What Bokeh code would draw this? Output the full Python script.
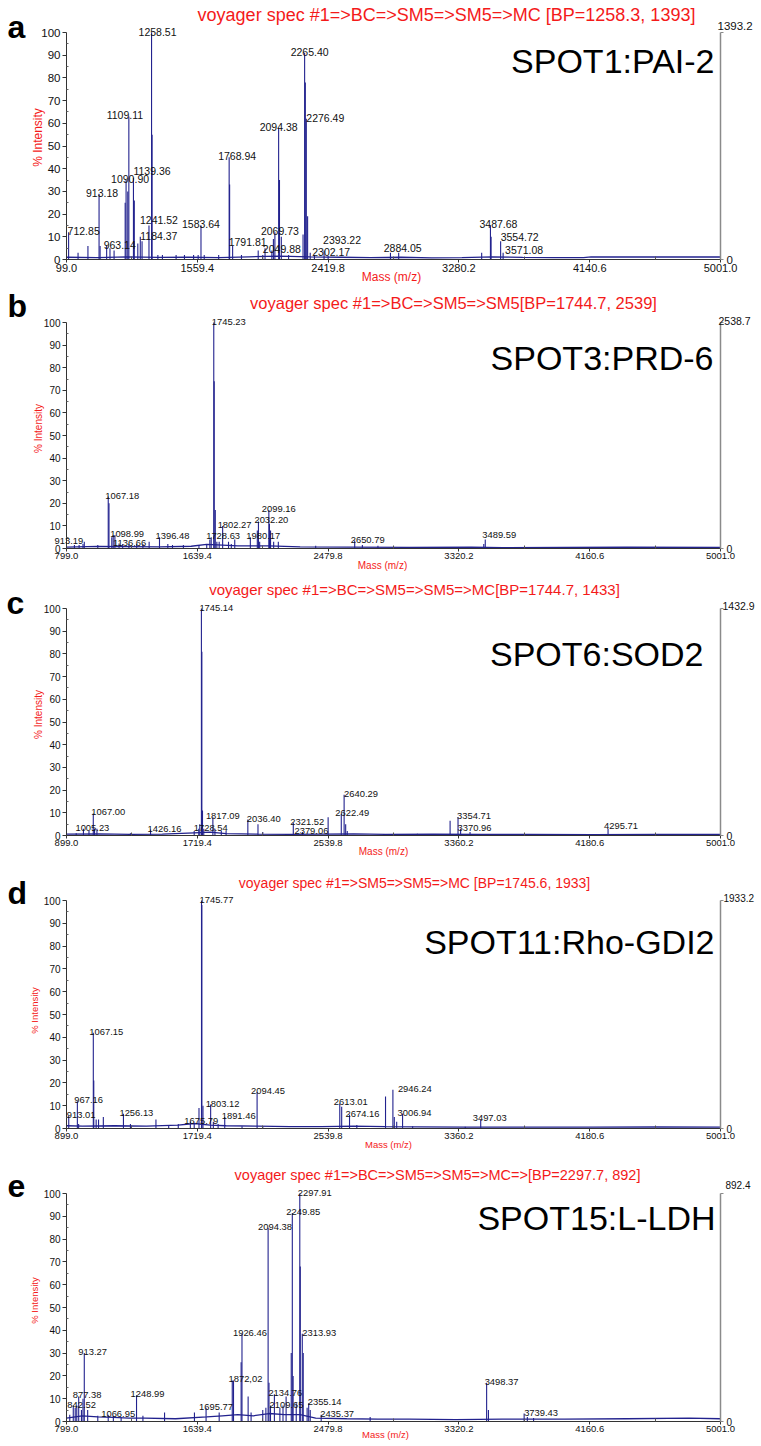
import math
from bokeh.plotting import figure
from bokeh.layouts import column
from bokeh.models import Range1d, LinearAxis, FixedTicker, ColumnDataSource
from bokeh.embed import file_html
from bokeh.resources import INLINE
from bokeh.core.properties import value

# ---------------- DATA ----------------
# Panel a : SPOT1:PAI-2
a_title = "voyager spec #1=>BC=>SM5=>SM5=>MC [BP=1258.3, 1393]"
a_name = "SPOT1:PAI-2"
a_counts_max = 1393.2
a_xrange = (699.0, 5001.0)
a_xticks = [699.0, 1559.4, 2419.8, 3280.2, 4140.6, 5001.0]
a_xtick_labels = ["99.0", "1559.4", "2419.8", "3280.2", "4140.6", "5001.0"]
a_label_mz = [712.85, 913.18, 963.14, 1090.90, 1109.11, 1139.36, 1184.37, 1241.52, 1258.51, 1583.64,
              1768.94, 1791.81, 2049.88, 2069.73, 2094.38, 2265.40, 2276.49, 2302.17, 2393.22, 2884.05,
              3487.68, 3554.72, 3571.08]
a_label_int = [12, 29, 6, 35, 63, 36, 10, 15, 100, 15,
               45, 6, 4, 12, 58, 91, 62, 3, 4, 3,
               15, 8, 3]
a_label_txt = ["712.85", "913.18", "963.14", "1090.90", "1109.11", "1139.36", "1184.37", "1241.52", "1258.51", "1583.64",
               "1768.94", "1791.81", "2049.88", "2069.73", "2094.38", "2265.40", "2276.49", "2302.17", "2393.22", "2884.05",
               "3487.68", "3554.72", "3571.08"]
a_peak_mz = [775, 840, 920, 985, 1012, 1085, 1102, 1145, 1168, 1196, 1262, 1300, 1330, 1420, 1475, 1535, 1565,
             1605, 1700, 1772, 1850, 1960, 1990, 2005, 2060, 2100, 2112, 2160, 2255, 2270, 2285, 2330, 2420,
             2830, 3430, 3492]
a_peak_int = [3, 6, 6, 5, 4, 25, 30, 26, 7, 8, 55, 2, 2, 2, 2, 2, 2,
              2, 2, 33, 2, 4, 2, 5, 9, 35, 10, 2, 11, 78, 19, 2, 1.5,
              3, 3, 10]
a_base_mz = [699, 900, 1100, 1300, 1500, 1700, 1900, 2100, 2300, 2500, 2700, 2900, 3100, 3300, 3500, 3700,
             3900, 4100, 4150, 4500, 5001]
a_base_int = [1.0, 0.8, 1.2, 0.9, 1.0, 0.8, 1.2, 1.5, 1.2, 1.0, 0.8, 1.0, 0.7, 0.8, 1.2, 0.9,
              0.8, 0.8, 1.2, 1.1, 1.1]

# Panel b : SPOT3:PRD-6
b_title = "voyager spec #1=>BC=>SM5=>SM5[BP=1744.7, 2539]"
b_name = "SPOT3:PRD-6"
b_counts_max = 2538.7
b_xrange = (799.0, 5001.0)
b_xticks = [799.0, 1639.4, 2479.8, 3320.2, 4160.6, 5001.0]
b_xtick_labels = ["799.0", "1639.4", "2479.8", "3320.2", "4160.6", "5001.0"]
b_label_mz = [913.19, 1067.18, 1098.99, 1136.66, 1396.48, 1728.63, 1745.23, 1802.27, 1980.17, 2032.20,
              2099.16, 2650.79, 3489.59]
b_label_int = [3, 23, 6, 2.2, 5, 5, 100, 10, 5, 12, 17, 3.5, 4]
b_label_txt = ["913.19", "1067.18", "1098.99", "1136.66", "1396.48", "1728.63", "1745.23", "1802.27", "1980.17",
               "2032.20", "2099.16", "2650.79", "3489.59"]
b_peak_mz = [850, 880, 905, 1000, 1072, 1090, 1110, 1160, 1200, 1250, 1290, 1330, 1450, 1480, 1550, 1650,
             1700, 1720, 1748, 1755, 1765, 1780, 1840, 1858, 1880, 2025, 2040, 2103, 2110, 2130, 2160,
             2400, 2700, 2800, 3480]
b_peak_int = [1.5, 1.5, 2, 1.5, 20, 5, 6, 2, 2, 2, 2, 3, 2, 1.5, 1.5, 1.5,
              2, 4, 74, 17, 3, 3, 3, 2, 4, 8, 3, 11, 8, 3, 3,
              1.2, 1.5, 1.2, 2]
b_base_mz = [799, 1000, 1200, 1400, 1600, 1700, 1800, 1900, 2100, 2300, 2600, 3000, 3400, 3600, 4000,
             4400, 5001]
b_base_int = [0.6, 0.9, 0.8, 0.7, 1.0, 1.8, 1.5, 1.2, 1.2, 0.7, 0.6, 0.5, 0.6, 0.4, 0.5, 0.6, 0.5]

# Panel c : SPOT6:SOD2
c_title = "voyager spec #1=>BC=>SM5=>SM5=>MC[BP=1744.7, 1433]"
c_name = "SPOT6:SOD2"
c_counts_max = 1432.9
c_xrange = (899.0, 5001.0)
c_xticks = [899.0, 1719.4, 2539.8, 3360.2, 4180.6, 5001.0]
c_xtick_labels = ["899.0", "1719.4", "2539.8", "3360.2", "4180.6", "5001.0"]
c_label_mz = [1005.23, 1067.00, 1426.16, 1728.54, 1745.14, 1817.09, 2036.40, 2321.52, 2379.06, 2622.49,
              2640.29, 3354.71, 3370.96, 4295.71]
c_label_int = [3, 9.7, 2.6, 3, 100, 8, 7, 5.5, 1.5, 9.5, 18, 8, 3, 3]
c_label_txt = ["1005.23", "1067.00", "1426.16", "1728.54", "1745.14", "1817.09", "2036.40", "2321.52",
               "2379.06", "2622.49", "2640.29", "3354.71", "3370.96", "4295.71"]
c_peak_mz = [960, 1040, 1075, 1090, 1300, 1700, 1735, 1748, 1752, 1760, 1830, 1870, 1900, 2100, 2130,
             2540, 2650, 2660, 3100, 3305, 3430]
c_peak_int = [1, 2, 3, 3, 1, 2, 5, 81, 11, 3, 3, 2, 2, 5, 1.5,
              8, 5, 2, 0.8, 6.5, 1.5]
c_base_mz = [899, 1100, 1300, 1500, 1700, 1800, 1900, 2100, 2300, 2500, 2700, 2900, 3200, 3500, 3800,
             4200, 4600, 5001]
c_base_int = [0.6, 0.7, 0.5, 0.6, 1.2, 1.5, 0.8, 0.6, 0.5, 0.6, 0.7, 0.5, 0.6, 0.5, 0.5, 0.4, 0.5, 0.5]

# Panel d : SPOT11:Rho-GDI2
d_title = "voyager spec #1=>SM5=>SM5=>MC [BP=1745.6, 1933]"
d_name = "SPOT11:Rho-GDI2"
d_counts_max = 1933.2
d_xrange = (899.0, 5001.0)
d_xticks = [899.0, 1719.4, 2539.8, 3360.2, 4180.6, 5001.0]
d_xtick_labels = ["899.0", "1719.4", "2539.8", "3360.2", "4180.6", "5001.0"]
d_label_mz = [913.01, 967.16, 1067.15, 1256.13, 1675.79, 1745.77, 1803.12, 1891.46, 2094.45, 2613.01,
              2674.16, 2946.24, 3006.94, 3497.03]
d_label_int = [5.5, 12, 42, 6.5, 3, 100, 10.5, 5, 16, 11, 6, 17, 6.5, 4]
d_label_txt = ["913.01", "967.16", "1067.15", "1256.13", "1675.79", "1745.77", "1803.12", "1891.46",
               "2094.45", "2613.01", "2674.16", "2946.24", "3006.94", "3497.03"]
d_peak_mz = [975, 1070, 1085, 1100, 1130, 1300, 1460, 1540, 1600, 1700, 1730, 1748, 1755, 1820, 1850,
             2000, 2130, 2625, 2720, 2900, 2955, 2970, 3070, 3400]
d_peak_int = [2, 21, 4, 4, 5, 2, 4, 1.5, 2, 2, 9, 98, 10, 3, 2,
              1, 1, 9.5, 1.5, 14, 5, 3, 1, 0.8]
d_base_mz = [899, 1000, 1200, 1400, 1600, 1700, 1800, 1900, 2100, 2300, 2500, 2700, 2900, 3100, 3400,
             3800, 4200, 4600, 5001]
d_base_int = [1.2, 1.0, 1.2, 1.0, 1.5, 2.2, 1.5, 1.2, 1.0, 0.8, 0.8, 1.0, 0.8, 0.7, 0.6,
              0.6, 0.6, 0.7, 0.6]

# Panel e : SPOT15:L-LDH
e_title = "voyager spec #1=>BC=>SM5=>SM5=>MC=>[BP=2297.7, 892]"
e_name = "SPOT15:L-LDH"
e_counts_max = 892.4
e_xrange = (799.0, 5001.0)
e_xticks = [799.0, 1639.4, 2479.8, 3320.2, 4160.6, 5001.0]
e_xtick_labels = ["799.0", "1639.4", "2479.8", "3320.2", "4160.6", "5001.0"]
e_label_mz = [842.52, 877.38, 913.27, 1066.95, 1248.99, 1695.77, 1872.02, 1926.46, 2094.38, 2109.65,
              2134.76, 2249.85, 2297.91, 2313.93, 2355.14, 2435.37, 3498.37, 3739.43]
e_label_int = [7, 11, 30, 3, 11.5, 6, 18, 38.5, 85, 7, 12, 91.5, 100, 38.5, 8, 3, 17, 3.5]
e_label_txt = ["842.52", "877.38", "913.27", "1066.95", "1248.99", "1695.77", "1872,02", "1926.46",
               "2094.38", "2109.65", "2134.76", "2249.85", "2297.91", "2313.93", "2355.14", "2435.37",
               "3498.37", "3739.43"]
e_peak_mz = [820, 855, 865, 895, 905, 935, 1000, 1100, 1150, 1290, 1429, 1621, 1780, 1864, 1921, 1966,
             1985, 2060, 2080, 2100, 2170, 2190, 2210, 2243, 2255, 2275, 2301, 2320, 2345, 2365, 2750,
             3510, 3760, 3800]
e_peak_int = [3, 6, 7, 5, 10, 5, 2.5, 2.5, 2, 2.5, 4, 4, 4, 18, 26, 11,
              4, 5, 6, 17, 6, 7, 11, 30, 20, 8, 68, 30, 6, 5, 2,
              5, 2, 1.5]
e_base_mz = [799, 900, 1000, 1100, 1200, 1300, 1500, 1700, 1800, 1900, 2000, 2100, 2200, 2300, 2400,
             2600, 2800, 3000, 3300, 3600, 4000, 4400, 4800, 5001]
e_base_int = [1.5, 2.5, 2.0, 1.8, 1.5, 1.5, 1.2, 2.0, 2.5, 3.0, 2.5, 3.5, 3.0, 3.0, 1.5,
              1.2, 1.0, 1.0, 0.8, 1.0, 1.0, 1.2, 1.5, 1.2]

# ---------------- STYLE / LAYOUT ----------------
FONT = "Liberation Sans"
RED = "#f41a1a"
SPEC = "#22228e"
FRAME_LEFT = 66
FRAME_W = 654
FIG_W = 761
HEADROOM = 16  # px of frame above the 100 % line (room for peak labels)

panels = [
    dict(letter="a", title=a_title, name=a_name, cmax=a_counts_max, xr=a_xrange, xt=a_xticks, xtl=a_xtick_labels,
         lmz=a_label_mz, lint=a_label_int, ltxt=a_label_txt, pmz=a_peak_mz, pint=a_peak_int,
         bmz=a_base_mz, bint=a_base_int,
         geo=dict(fig_top=0, top100=32, h100=227, fig_bottom=286),
         fs=dict(title=18, tick_x=11, tick_y=11.5, lab=10.5, axis=12, cmax=11.5),
         pos=dict(title=(446, 14), name=(714, 60), letter=(7, 26), ylab=(37, 137), xlab=(391, 276), cmax=(717, 25)),
         default=("center", 0, 0),
         style={"712.85": ("left", -1, 0), "913.18": ("center", 3, 0), "963.14": ("left", -3, 0),
                "1090.90": ("center", 4, 0), "1109.11": ("center", -4, 0), "1139.36": ("left", 0, 6),
                "1184.37": ("left", 0, 0), "1241.52": ("left", -9, 4), "1258.51": ("center", 6, 0),
                "1768.94": ("center", 8, 0), "1791.81": ("left", -4, 3), "2049.88": ("left", -9, 0),
                "2069.73": ("center", 5, 0), "2265.40": ("center", 5, 0), "2276.49": ("left", 0, 0),
                "2302.17": ("left", 2, 0), "2393.22": ("left", -1, 9), "2884.05": ("center", 4, 4),
                "3487.68": ("center", 8, 0), "3554.72": ("left", 0, 3), "3571.08": ("left", 2, 2)}),
    dict(letter="b", title=b_title, name=b_name, cmax=b_counts_max, xr=b_xrange, xt=b_xticks, xtl=b_xtick_labels,
         lmz=b_label_mz, lint=b_label_int, ltxt=b_label_txt, pmz=b_peak_mz, pint=b_peak_int,
         bmz=b_base_mz, bint=b_base_int,
         geo=dict(fig_top=286, top100=322, h100=226, fig_bottom=573),
         fs=dict(title=16.5, tick_x=9.5, tick_y=10, lab=9.4, axis=10, cmax=10.5),
         pos=dict(title=(453, 302), name=(713, 357), letter=(7, 305), ylab=(38, 428), xlab=(382, 565), cmax=(718, 320)),
         default=("left", -4, 0),
         style={"913.19": ("right", -1, 0), "1067.18": ("left", -3, 0), "1098.99": ("left", -3, 0),
                "1136.66": ("left", -6, 0), "1728.63": ("left", -5, 0), "1745.23": ("left", -2, 0),
                "1802.27": ("left", -5, 0), "2099.16": ("left", -7, 0), "3489.59": ("left", -3, 3)}),
    dict(letter="c", title=c_title, name=c_name, cmax=c_counts_max, xr=c_xrange, xt=c_xticks, xtl=c_xtick_labels,
         lmz=c_label_mz, lint=c_label_int, ltxt=c_label_txt, pmz=c_peak_mz, pint=c_peak_int,
         bmz=c_base_mz, bint=c_base_int,
         geo=dict(fig_top=573, top100=608, h100=227, fig_bottom=862),
         fs=dict(title=15, tick_x=9.5, tick_y=10, lab=9.4, axis=10, cmax=10.5),
         pos=dict(title=(414, 589), name=(703, 653), letter=(6, 602), ylab=(38, 714), xlab=(383, 851), cmax=(722, 605)),
         default=("left", -4, 0),
         style={"1005.23": ("left", -8, 0), "1067.00": ("left", -2, 0), "1426.16": ("left", -3, 0),
                "1728.54": ("left", -5, 0), "1745.14": ("left", -2, 0), "1817.09": ("left", -7, 0),
                "2036.40": ("left", -1, 0), "2321.52": ("left", -3, 0), "2379.06": ("left", -8, 0),
                "2622.49": ("left", -6, 0), "2640.29": ("left", 0, 0), "3354.71": ("left", -1, 0),
                "3370.96": ("left", -3, 0), "4295.71": ("left", -4, 2)}),
    dict(letter="d", title=d_title, name=d_name, cmax=d_counts_max, xr=d_xrange, xt=d_xticks, xtl=d_xtick_labels,
         lmz=d_label_mz, lint=d_label_int, ltxt=d_label_txt, pmz=d_peak_mz, pint=d_peak_int,
         bmz=d_base_mz, bint=d_base_int,
         geo=dict(fig_top=862, top100=900, h100=228, fig_bottom=1152),
         fs=dict(title=14, tick_x=9.5, tick_y=10, lab=9.4, axis=9.5, cmax=10),
         pos=dict(title=(414, 882), name=(714, 941), letter=(7, 892), ylab=(34, 1010), xlab=(388, 1144), cmax=(723, 897)),
         default=("left", -4, 0),
         style={"913.01": ("left", -2, 0), "967.16": ("left", -3, 0), "1675.79": ("left", -6, 0),
                "1745.77": ("left", -2, 0), "1803.12": ("left", -5, 0), "1891.46": ("left", -3, 0),
                "2094.45": ("left", -6, 0), "2613.01": ("left", -6, 0), "2946.24": ("left", 5, 0),
                "3006.94": ("left", -5, 0), "3497.03": ("left", -8, 0)}),
    dict(letter="e", title=e_title, name=e_name, cmax=e_counts_max, xr=e_xrange, xt=e_xticks, xtl=e_xtick_labels,
         lmz=e_label_mz, lint=e_label_int, ltxt=e_label_txt, pmz=e_peak_mz, pint=e_peak_int,
         bmz=e_base_mz, bint=e_base_int,
         geo=dict(fig_top=1152, top100=1193, h100=228, fig_bottom=1446),
         fs=dict(title=14.5, tick_x=9.5, tick_y=10, lab=9.4, axis=9.5, cmax=10),
         pos=dict(title=(437, 1174), name=(715, 1217), letter=(7, 1185), ylab=(34, 1300), xlab=(385, 1434), cmax=(725, 1184)),
         default=("left", -6, 0),
         style={"1066.95": ("left", -7, 0), "1695.77": ("left", -7, 0), "1872,02": ("left", -5, 0),
                "1926.46": ("left", -9, 0), "2094.38": ("left", -10, 0), "2109.65": ("left", -1, 0),
                "2297.91": ("left", -2, 0), "2313.93": ("left", 0, 0), "2355.14": ("left", -1, 0),
                "2435.37": ("left", -1, 0), "3498.37": ("left", -2, 0), "3739.43": ("left", 0, 0)}),
]


def build(P):
    g = P["geo"]
    fs = P["fs"]
    x0, x1 = P["xr"]
    bottom0 = g["top100"] + g["h100"]          # page y of the 0 % line
    frame_top = g["top100"] - HEADROOM
    frame_h = g["h100"] + HEADROOM
    ytop = 100.0 * frame_h / g["h100"]
    ft = g["fig_top"]

    def px2x(px):
        return x0 + (px - FRAME_LEFT) / FRAME_W * (x1 - x0)

    def py2y(py):
        return (bottom0 - py) / g["h100"] * 100.0

    p = figure(frame_width=FRAME_W, frame_height=frame_h,
               x_range=Range1d(x0, x1), y_range=Range1d(0, ytop),
               x_axis_type=None, y_axis_type=None,
               min_border_left=FRAME_LEFT, min_border_right=FIG_W - FRAME_LEFT - FRAME_W,
               min_border_top=frame_top - ft,
               min_border_bottom=g["fig_bottom"] - bottom0,
               output_backend="svg", toolbar_location=None,
               background_fill_color="white", border_fill_color="white")
    p.outline_line_color = None
    p.extra_y_ranges = {"counts": Range1d(0, P["cmax"] * ytop / 100.0)}

    # bottom axis
    step = P["xt"][1] - P["xt"][0]
    xa = LinearAxis(ticker=FixedTicker(ticks=P["xt"], minor_ticks=[t + step / 2 for t in P["xt"][:-1]]))
    xa.major_label_overrides = {t: l for t, l in zip(P["xt"], P["xtl"])}
    xa.major_label_text_font = FONT
    xa.major_label_text_font_size = f"{fs['tick_x']}px"
    xa.major_label_text_color = "#111111"
    xa.major_label_standoff = 1
    xa.major_tick_out = 3
    xa.major_tick_in = 0
    xa.minor_tick_out = 0
    xa.minor_tick_in = 3
    xa.axis_line_color = "#333333"
    xa.major_tick_line_color = "#333333"
    xa.minor_tick_line_color = "#555555"
    p.add_layout(xa, "below")

    # left axis (% intensity)
    ya = LinearAxis(ticker=FixedTicker(ticks=list(range(0, 101, 10)), minor_ticks=list(range(5, 100, 10))),
                    bounds=(0, 100))
    ya.major_label_text_font = FONT
    ya.major_label_text_font_size = f"{fs['tick_y']}px"
    ya.major_label_text_color = "#111111"
    ya.major_label_standoff = 2
    ya.major_tick_out = 4
    ya.major_tick_in = 0
    ya.minor_tick_out = 0
    ya.minor_tick_in = 2
    ya.axis_line_color = "#333333"
    ya.major_tick_line_color = "#333333"
    ya.minor_tick_line_color = "#666666"
    p.add_layout(ya, "left")

    # right axis (absolute counts)
    ra = LinearAxis(y_range_name="counts", ticker=FixedTicker(ticks=[0, P["cmax"]], minor_ticks=[]),
                    bounds=(0, P["cmax"]))
    ra.major_label_overrides = {0: "0", P["cmax"]: ""}
    ra.major_label_text_font = FONT
    ra.major_label_text_font_size = f"{fs['cmax']}px"
    ra.major_label_text_color = "#111111"
    ra.major_label_standoff = 3
    ra.major_tick_out = 3
    ra.major_tick_in = 0
    ra.axis_line_color = "#8a8a8a"
    ra.axis_line_width = 1.5
    ra.major_tick_line_color = "#8a8a8a"
    p.add_layout(ra, "right")

    # spectrum: baseline + peaks
    p.line(P["bmz"], P["bint"], line_color=SPEC, line_width=1.3)
    all_mz = list(P["pmz"]) + list(P["lmz"])
    all_int = list(P["pint"]) + list(P["lint"])
    p.segment(x0=all_mz, y0=[0] * len(all_mz), x1=all_mz, y1=all_int, line_color=SPEC, line_width=1.1)

    # peak labels
    groups = {}
    for mz, it, tx in zip(P["lmz"], P["lint"], P["ltxt"]):
        al, dx, dy = P["style"].get(tx, P["default"])
        gsrc = groups.setdefault(al, dict(x=[], y=[], t=[], dx=[], dy=[]))
        gsrc["x"].append(mz)
        gsrc["y"].append(it)
        gsrc["t"].append(tx)
        gsrc["dx"].append(dx)
        gsrc["dy"].append(-1 - dy)
    for al, gsrc in groups.items():
        src = ColumnDataSource(gsrc)
        p.text(x="x", y="y", text="t", x_offset="dx", y_offset="dy", source=src,
               text_align=al, text_baseline="alphabetic", text_font=value(FONT),
               text_font_size=f"{fs['lab']}px", text_color="#111111", level="overlay")

    # annotation texts (placed through the plot's own scales, drawn above the frame clip)
    def lab(pos, text, size, color, align="center", baseline="middle", angle=0.0, style="normal"):
        px, py = pos
        p.text(x=[px2x(px)], y=[py2y(py)], text=[text], angle=angle,
               text_align=align, text_baseline=baseline, text_font=value(FONT),
               text_font_size=size, text_font_style=style, text_color=color, level="overlay")

    lab(P["pos"]["title"], P["title"], f"{fs['title']}px", RED)
    lab(P["pos"]["name"], P["name"], "34px", "#000000", align="right", baseline="alphabetic")
    lab(P["pos"]["letter"], P["letter"], "32px", "#000000", align="left", baseline="alphabetic", style="bold")
    lab(P["pos"]["ylab"], "% Intensity", f"{fs['axis']}px", RED, angle=math.pi / 2)
    lab(P["pos"]["xlab"], "Mass (m/z)", f"{fs['axis']}px", RED)
    lab(P["pos"]["cmax"], f"{P['cmax']:.1f}", f"{fs['cmax']}px", "#111111", align="left")
    return p


figs = [build(P) for P in panels]
layout = column(*figs, spacing=0)

open("out.html", "w").write(file_html(layout, INLINE))
